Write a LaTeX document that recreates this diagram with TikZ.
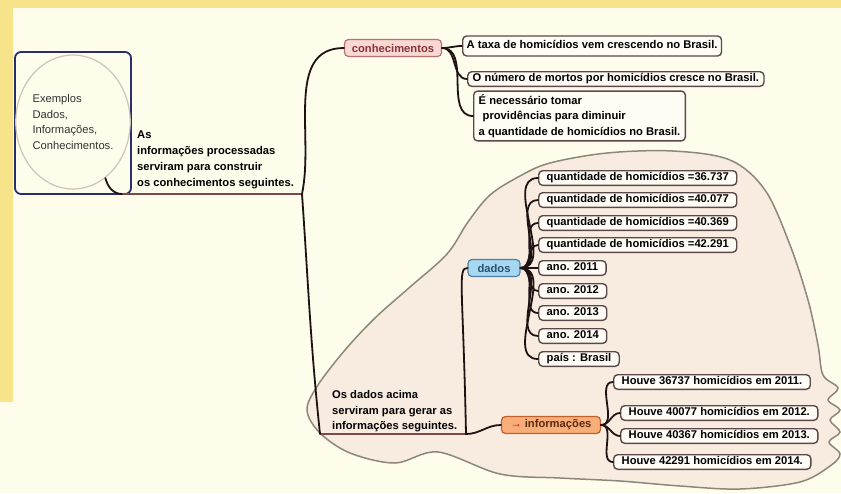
\documentclass[tikz,border=0pt]{standalone}
\usepackage{fontspec}
\setmainfont{Liberation Sans}
\usetikzlibrary{shapes.geometric}

\definecolor{fundo}{HTML}{FEFCEA}
\definecolor{amarelo}{HTML}{F6E38A}
\definecolor{nuvemfundo}{HTML}{F8ECE1}
\definecolor{nuvemborda}{HTML}{8C877A}
\definecolor{ligacao}{HTML}{1E1212}
\definecolor{folhaborda}{HTML}{5C4848}
\definecolor{folhafundo}{HTML}{FFFCF6}
\definecolor{sublinhado}{HTML}{7A4A4A}
\definecolor{marinho}{HTML}{2A2E6E}
\definecolor{bolhaborda}{HTML}{CFC6B2}
\definecolor{conhecborda}{HTML}{B97070}
\definecolor{conhecfundo}{HTML}{F7D8D4}
\definecolor{conhectexto}{HTML}{8A3434}
\definecolor{dadosborda}{HTML}{4E7FA8}
\definecolor{dadosfundo}{HTML}{A6D8F2}
\definecolor{dadostexto}{HTML}{2E5070}
\definecolor{infoborda}{HTML}{C0602A}
\definecolor{infofundo}{HTML}{F8AE78}
\definecolor{infotexto}{HTML}{5A2A10}

\begin{document}
\begin{tikzpicture}
  [x=1pt,y=-1pt,
   link/.style={draw=ligacao,line width=1.8pt,line cap=round},
   traco/.style={draw=sublinhado,line width=1.6pt},
   caixa/.style={draw=folhaborda,fill=folhafundo,line width=1.4pt,rounded corners=4pt,
     font=\bfseries\fontsize{11.2}{15.8}\selectfont,inner xsep=8pt,inner ysep=2pt,anchor=west},
   folha/.style={caixa,text height=8.2pt,text depth=2.4pt},
   nota/.style={anchor=north west,inner sep=0pt,align=left,
     font=\bfseries\fontsize{11.2}{15.8}\selectfont},
   topico/.style={rounded corners=4pt,line width=1.2pt,minimum height=17pt,inner sep=1pt,
     font=\bfseries\fontsize{11.2}{14}\selectfont}]

  \useasboundingbox (0,0) rectangle (841,493);
  \fill[fundo] (0,0) rectangle (841,493);
  \fill[amarelo] (0,0) rectangle (841,8);
  \fill[amarelo] (0,0) rectangle (13,402);

  \filldraw[fill=nuvemfundo,draw=nuvemborda,line width=1.5pt]
    plot[smooth cycle,tension=0.55] coordinates {(318,385) (345,350) (375,318) (410,287)
    (447,254) (468,222) (490,195) (520,176) (550,163) (607,153) (673,151) (730,160)
    (765,190) (790,245) (808,300) (818,345) (823,375) (838,388) (828,400) (840,410)
    (830,420) (840,432) (829,442) (840,454) (830,466) (800,482) (740,489) (680,486)
    (620,481) (560,478) (500,474) (438,452) (395,463) (350,453) (320,433) (307,410)};

  \node[draw=marinho,line width=1.8pt,rounded corners=6pt,minimum width=116pt,
    minimum height=142pt] (quadro) at (73,123) {};
  \node[ellipse,draw=bolhaborda,line width=1.2pt,minimum width=106pt,minimum height=134pt,
    inner sep=0pt,align=left,text=black!80,font=\fontsize{11.2}{15.5}\selectfont]
    (exemplos) at (73,122) {Exemplos\\Dados,\\Informações,\\Conhecimentos.};

  \node[nota] (processadas) at (137,131)
    {As\\informações processadas\\serviram para construir\\os conhecimentos seguintes.};
  \coordinate (procA) at (122,194);
  \coordinate (procB) at (302,194);
  \draw[traco] (procA) -- (procB);
  \draw[link] (exemplos.-60) to[out=-75,in=180] (procA);

  \node[nota] (gerar) at (332,390)
    {Os dados acima\\serviram para gerar as\\informações seguintes.};
  \coordinate (geraA) at (320,434);
  \coordinate (geraB) at (466,434);
  \draw[traco] (geraA) -- (geraB);

  \node[topico,draw=conhecborda,fill=conhecfundo,text=conhectexto,minimum width=97pt]
    (conhec) at (393,48) {conhecimentos};
  \node[topico,draw=dadosborda,fill=dadosfundo,text=dadostexto,minimum width=52pt]
    (dados) at (494,268) {dados};
  \node[topico,draw=infoborda,fill=infofundo,text=infotexto,minimum width=99pt]
    (info) at (551,425) {{\color{red!80!black}→} informações};

  \draw[link] (procB) to[out=78,in=180] (conhec.west);
  \draw[link] (procB) to[out=-86,in=96] (geraA);
  \draw[link] (geraB) .. controls +(-3,-150) and +(-10,0) .. (dados.west);
  \draw[link] (geraB) to[out=0,in=180] (info.west);

  \node[folha,inner xsep=4pt,minimum height=20pt] (taxa) at (462,46)
    {A taxa de homicídios vem crescendo no Brasil.};
  \node[folha,inner xsep=5pt] (mortos) at (467,79)
    {O número de mortos por homicídios cresce no Brasil.};
  \node[caixa,align=left,inner xsep=5pt,inner ysep=3pt] (tomar) at (473,116)
    {É necessário tomar\\\hspace*{4pt}providências para diminuir\\a quantidade de homicídios no Brasil.};

  \draw[link] (conhec.east) to[out=0,in=180] (taxa.west);
  \draw[link] (conhec.east) to[out=0,in=180] (mortos.west);
  \draw[link] (conhec.east) to[out=0,in=180] (tomar.west);

  \def\x{538}

  \node[folha] (qtd1) at (\x,178) {quantidade de homicídios =36.737};
  \node[folha] (qtd2) at (\x,200) {quantidade de homicídios =40.077};
  \node[folha] (qtd3) at (\x,223) {quantidade de homicídios =40.369};
  \node[folha] (qtd4) at (\x,245) {quantidade de homicídios =42.291};
  \node[folha] (ano1) at (\x,268) {ano. 2011};
  \node[folha] (ano2) at (\x,291) {ano. 2012};
  \node[folha] (ano3) at (\x,313) {ano. 2013};
  \node[folha] (ano4) at (\x,336) {ano. 2014};
  \node[folha] (pais) at (\x,359) {país : Brasil};

  \draw[link] (dados.east) to[out=0,in=180] (qtd1.west);
  \draw[link] (dados.east) to[out=0,in=180] (qtd2.west);
  \draw[link] (dados.east) to[out=0,in=180] (qtd3.west);
  \draw[link] (dados.east) to[out=0,in=180] (qtd4.west);
  \draw[link] (dados.east) -- (ano1.west);
  \draw[link] (dados.east) to[out=0,in=180] (ano2.west);
  \draw[link] (dados.east) to[out=0,in=180] (ano3.west);
  \draw[link] (dados.east) to[out=0,in=180] (ano4.west);
  \draw[link] (dados.east) to[out=0,in=180] (pais.west);

  \node[folha] (houve1) at (613,382) {Houve 36737 homicídios em 2011.};
  \node[folha] (houve2) at (620,413) {Houve 40077 homicídios em 2012.};
  \node[folha] (houve3) at (620,436) {Houve 40367 homicídios em 2013.};
  \node[folha] (houve4) at (613,462) {Houve 42291 homicídios em 2014.};

  \draw[link] (info.east) to[out=0,in=180] (houve1.west);
  \draw[link] (info.east) to[out=0,in=180] (houve2.west);
  \draw[link] (info.east) to[out=0,in=180] (houve3.west);
  \draw[link] (info.east) to[out=0,in=180] (houve4.west);
\end{tikzpicture}
\end{document}
